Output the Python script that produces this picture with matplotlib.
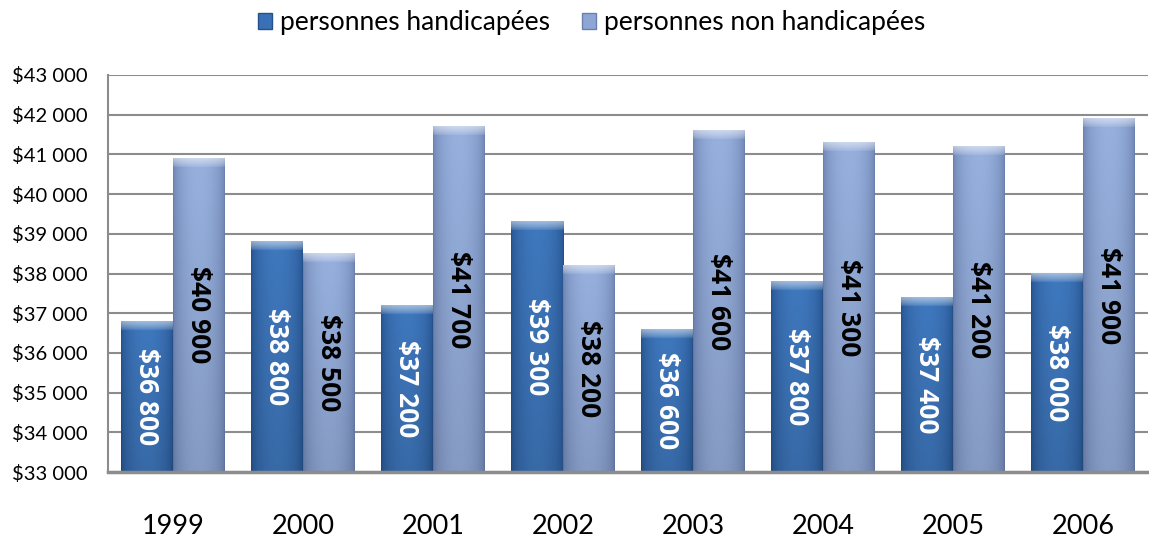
import numpy as np
import matplotlib
matplotlib.use("Agg")
import matplotlib.pyplot as plt
from matplotlib.patches import Patch

plt.rcParams["font.family"] = ["Lato", "DejaVu Sans"]

years = ["1999", "2000", "2001", "2002", "2003", "2004", "2005", "2006"]
handicapees = [36800, 38800, 37200, 39300, 36600, 37800, 37400, 38000]
non_handicapees = [40900, 38500, 41700, 38200, 41600, 41300, 41200, 41900]
series_names = ["personnes handicapées", "personnes non handicapées"]


def money(v):
    return "$" + f"{v:,.0f}".replace(",", " ")


def gradient_bar(ax, bar, edge, mid, px_per_unit):
    # horizontal cylinder-like shading plus a light bevel on top
    x, y = bar.get_x(), bar.get_y()
    w, h = bar.get_width(), bar.get_height()
    edge = np.array(matplotlib.colors.to_rgb(edge))
    mid = np.array(matplotlib.colors.to_rgb(mid))
    nx = 60
    ny = max(int(h * px_per_unit), 4)
    t = np.linspace(0, 1, nx)
    prof = np.sin(np.pi * t) ** 0.5
    row = edge + (mid - edge) * prof[:, None]
    img = np.repeat(row[None, :, :], ny, axis=0)
    bevel = 9
    for i in range(min(bevel, ny)):
        f = 0.5 * (1 - i / bevel) ** 0.7
        img[i] = img[i] + (1 - img[i]) * f
    # slightly darker toward the bottom
    fade = np.linspace(0, 0.12, ny)[:, None, None]
    img = img * (1 - fade)
    ax.imshow(np.clip(img, 0, 1), extent=(x, x + w, y, y + h), aspect="auto",
              interpolation="bilinear", zorder=2)
    bar.set_visible(False)


fig = plt.figure(figsize=(11.49, 5.4), dpi=100)
ax = fig.add_axes([108 / 1149, 68 / 540, 1040 / 1149, 397 / 540])

ymin, ymax = 33000, 43000
x = np.arange(len(years))
w = 0.4
px_per_unit = 397 / (ymax - ymin)

b1 = ax.bar(x - w / 2, np.array(handicapees) - ymin, w, bottom=ymin)
b2 = ax.bar(x + w / 2, np.array(non_handicapees) - ymin, w, bottom=ymin)

ax.set_xlim(-0.5, len(years) - 0.5)
ax.set_ylim(ymin, ymax)

label_font = dict(family=["Open Sans", "DejaVu Sans"], fontsize=19,
                  fontweight="bold")
for bar, v in zip(b1, handicapees):
    gradient_bar(ax, bar, "#24518C", "#3F78BE", px_per_unit)
    ax.text(bar.get_x() + w / 2, (ymin + v) / 2, money(v), rotation=270,
            ha="center", va="center", color="white", zorder=3, **label_font)
for bar, v in zip(b2, non_handicapees):
    gradient_bar(ax, bar, "#6A80AE", "#97B0DE", px_per_unit)
    ax.text(bar.get_x() + w / 2, (ymin + v) / 2, money(v), rotation=270,
            ha="center", va="center", color="black", zorder=3, **label_font)

ax.set_yticks(np.arange(ymin, ymax + 1, 1000))
ax.set_yticklabels([money(v) for v in np.arange(ymin, ymax + 1, 1000)], fontsize=14.5)
ax.set_xticks(x)
ax.set_xticklabels(years, fontsize=19.5)
ax.tick_params(axis="both", length=0)
ax.tick_params(axis="y", pad=15)
ax.tick_params(axis="x", pad=30)

ax.yaxis.grid(True, color="#8C8C8C", linewidth=1.5, zorder=0)
ax.set_axisbelow(True)
for s in ["top", "right"]:
    ax.spines[s].set_visible(False)
ax.spines["left"].set_color("#8C8C8C")
ax.spines["left"].set_linewidth(1.5)
ax.spines["bottom"].set_color("#8C8C8C")
ax.spines["bottom"].set_linewidth(2.5)
ax.spines["bottom"].set_zorder(4)

handles = [Patch(facecolor="#3A70B5", edgecolor="#24518C"),
           Patch(facecolor="#8EA6D4", edgecolor="#6A80AE")]
fig.legend(handles, series_names, loc="center", bbox_to_anchor=(0.515, 0.958),
           ncol=2, frameon=False, fontsize=19, handlelength=0.55,
           handleheight=0.55, handletextpad=0.3, columnspacing=1.2)

fig.savefig("out.png", dpi=100)
